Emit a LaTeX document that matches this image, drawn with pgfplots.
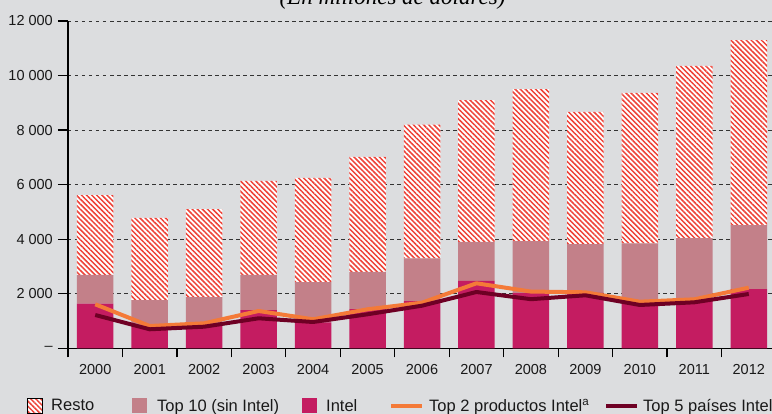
\documentclass[border=0pt]{standalone}
\usepackage{fontspec}
\setmainfont{Liberation Sans}
\newfontfamily\titlefont{Liberation Serif}
\usepackage{pgfplots}
\pgfplotsset{compat=1.18}
\usetikzlibrary{patterns.meta}

\definecolor{bg}{HTML}{DCDDDF}
\definecolor{intel}{HTML}{C41C61}
\definecolor{topten}{HTML}{C38089}
\definecolor{hatch}{HTML}{EE4238}
\definecolor{orangeL}{HTML}{F47A38}
\definecolor{darkL}{HTML}{6E0024}

\tikzset{resto/.style={fill=white, draw=none, postaction={pattern={Lines[angle=-45,distance=3.6pt,line width=1.5pt]}, pattern color=hatch}}}

\pgfplotstableread{
x intel topten resto top2 top5
0  1640 1050 2930 1613 1221
1   840  930 3010  818  697
2   880 1000 3220  916  792
3  1400 1290 3450 1368 1100
4   950 1480 3820 1063  964
5  1440 1360 4220 1430 1247
6  1730 1570 4900 1672 1562
7  2470 1430 5200 2383 2064
8  2020 1910 5570 2080 1800
9  2030 1790 4850 2053 1943
10 1700 2150 5510 1709 1588
11 1830 2210 6310 1796 1686
12 2170 2350 6780 2222 1991
}\datatable

\begin{document}
\begin{tikzpicture}[x=1pt,y=1pt]
\path[use as bounding box] (0,0) rectangle (772,414);
\fill[bg] (0,0) rectangle (772,414);
\clip (0,0) rectangle (772,414);
\pgfplotsset{common/.style={
  at={(68pt,65.7pt)}, anchor=south west,
  scale only axis, width=708pt, height=327.3pt,
  xmin=-0.5, xmax=12.5, ymin=0, ymax=12000}}
\begin{axis}[common,
  ybar stacked, bar width=36.5pt,
  axis x line*=bottom, axis y line*=left,
  axis line style={black, line width=1.2pt},
  xtick={0,...,12},
  xticklabels={2000,2001,2002,2003,2004,2005,2006,2007,2008,2009,2010,2011,2012},
  major x tick style={draw=none},
  minor xtick={-0.5,0.5,...,12.5},
  minor tick length=9pt,
  ytick={0,2000,...,12000},
  yticklabels={–,2 000,4 000,6 000,8 000,10 000,12 000},
  scaled y ticks=false,
  major tick length=10pt,
  tick align=outside,
  tick style={black, line width=1.2pt},
  tick label style={font=\fontsize{14.5}{17}\selectfont, text=black!90},
  xticklabel style={anchor=north, inner sep=0pt, yshift=-6pt},
  yticklabel style={anchor=east, inner sep=0pt, xshift=-5pt},
  ymajorgrids,
  grid style={dash pattern=on 3.5pt off 3.5pt, line width=0.9pt, color=black!80},
  legend style={at={(-0.0579,-0.176)}, anchor=west, draw=none, fill=none,
    inner sep=0pt, outer sep=0pt, font=\fontsize{16.5}{19}\selectfont,
    column sep=0pt, nodes={inner sep=0pt, text=black!90}},
  legend columns=5, legend cell align=left,
]
\addlegendimage{legend image code/.code={\path[draw=none, fill=none] (0,0) -- (24pt,0);
  \path[resto] (0,-7.5pt) rectangle (15pt,7.5pt);}}
\addlegendentry{\makebox[81pt][l]{Resto}}
\addlegendimage{legend image code/.code={\path[draw=none, fill=none] (0,0) -- (25pt,0);
  \path[fill=topten, draw=none] (0,-7.5pt) rectangle (15pt,7.5pt);}}
\addlegendentry{\makebox[145pt][l]{Top 10 (sin Intel)}}
\addlegendimage{legend image code/.code={\path[draw=none, fill=none] (0,0) -- (24pt,0);
  \path[fill=intel, draw=none] (0,-7.5pt) rectangle (15pt,7.5pt);}}
\addlegendentry{\makebox[63pt][l]{Intel}}
\addlegendimage{legend image code/.code={\path[draw=none, fill=none] (0,0) -- (38pt,0);
  \draw[orangeL, line width=4pt] (0,0) -- (31pt,0);}}
\addlegendentry{\makebox[175pt][l]{Top 2 productos Intel\textsuperscript{a}}}
\addlegendimage{legend image code/.code={\path[draw=none, fill=none] (0,0) -- (37pt,0);
  \draw[darkL, line width=4pt] (0,0) -- (31pt,0);}}
\addlegendentry{Top 5 países Intel}

\addplot[forget plot, fill=intel, draw=none] table[x=x, y=intel] {\datatable};
\addplot[forget plot, fill=topten, draw=none] table[x=x, y=topten] {\datatable};
\addplot[forget plot, resto] table[x=x, y=resto] {\datatable};
\end{axis}
\begin{axis}[common, hide axis]
\addplot[orangeL, line width=4pt, line join=round, no marks] table[x=x, y=top2] {\datatable};
\addplot[darkL, line width=4pt, line join=round, no marks] table[x=x, y=top5] {\datatable};
\end{axis}
\node[anchor=base, font=\titlefont\itshape\fontsize{23}{26}\selectfont] at (392.5,409.5) {(En millones de dólares)};
\end{tikzpicture}
\end{document}
